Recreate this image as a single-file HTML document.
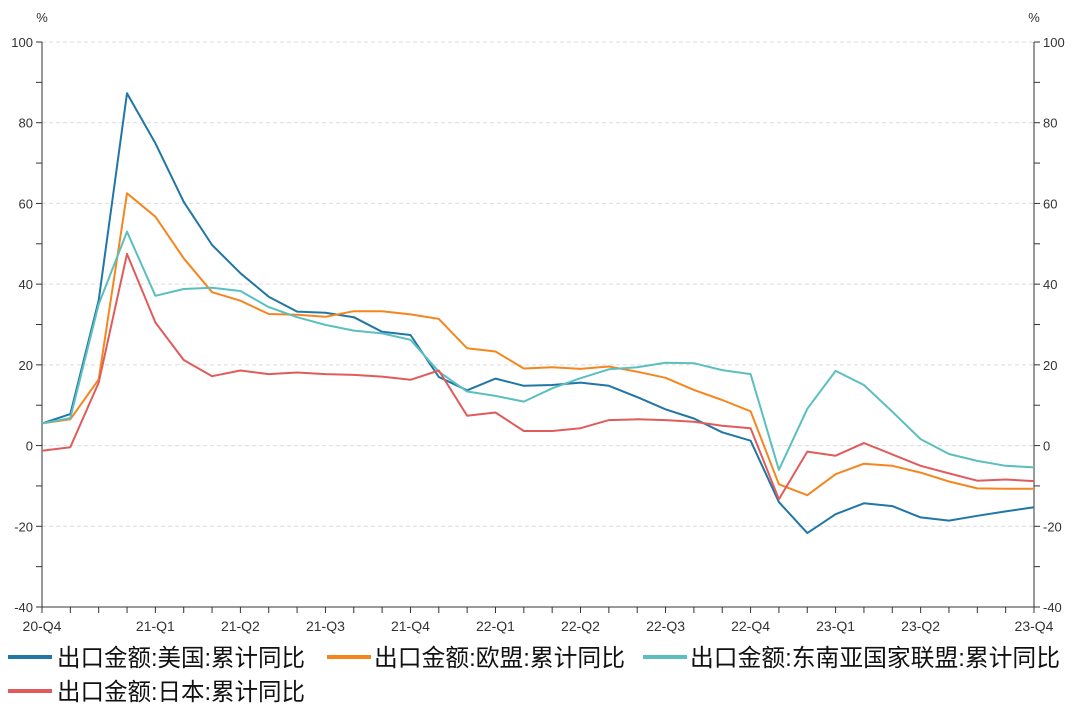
<!DOCTYPE html>
<html><head><meta charset="utf-8"><style>
body{margin:0;background:#fff;}
svg{display:block;font-family:"Liberation Sans","Noto Sans CJK SC",sans-serif;}
</style></head><body>
<svg id="chart" width="1080" height="710" viewBox="0 0 1080 710" xmlns="http://www.w3.org/2000/svg">
<g id="grid"></g>
<g id="axes"></g>
<g id="series"></g>
<g id="legend"></g>
</svg>
<script>
const xLabels = ["20-Q4","","","","21-Q1","","","21-Q2","","","21-Q3","","","21-Q4","","","22-Q1","","","22-Q2","","","22-Q3","","","22-Q4","","","23-Q1","","","23-Q2","","","","23-Q4"];
const yTicks = [-40,-20,0,20,40,60,80,100];
const usData = [5.5,7.8,36,87.3,74.9,60.4,49.7,42.7,36.9,33.2,32.9,31.8,28.2,27.4,17,13.7,16.6,14.8,15,15.6,14.8,12,9,6.7,3.3,1.2,-14,-21.7,-17,-14.3,-15,-17.8,-18.6,-17.4,-16.3,-15.3];
const euData = [5.5,6.5,16.4,62.5,56.7,46.4,38,35.9,32.6,32.4,31.9,33.3,33.3,32.5,31.4,24.1,23.3,19.1,19.4,19,19.6,18.3,16.8,13.8,11.3,8.5,-9.6,-12.3,-7.1,-4.5,-5,-6.7,-8.9,-10.6,-10.7,-10.7];
const aseanData = [5.5,6.8,35,53,37.1,38.8,39.1,38.3,34.3,31.8,29.9,28.5,27.8,26.2,18.3,13.4,12.3,10.9,14.2,16.7,18.9,19.4,20.5,20.4,18.7,17.7,-6,9.1,18.5,15,8.4,1.6,-2.1,-3.8,-5,-5.4];
const jpData = [-1.3,-0.4,15.6,47.5,30.5,21.2,17.2,18.6,17.7,18.1,17.7,17.5,17.1,16.3,18.6,7.4,8.2,3.6,3.6,4.3,6.3,6.5,6.3,5.9,4.9,4.3,-13.3,-1.5,-2.5,0.6,-2.2,-5,-6.9,-8.7,-8.4,-8.8];
const seriesNames = ["出口金额:美国:累计同比","出口金额:欧盟:累计同比","出口金额:东南亚国家联盟:累计同比","出口金额:日本:累计同比"];

const NS="http://www.w3.org/2000/svg";
const L=42,R=1034,T=42,B=607,yMin=-40,yMax=100;
const n=xLabels.length;
const xs=i=>L+(R-L)*i/(n-1);
const ys=v=>B-(v-yMin)*(B-T)/(yMax-yMin);
function mk(tag,attrs,parent){const e=document.createElementNS(NS,tag);for(const k in attrs)e.setAttribute(k,attrs[k]);parent.appendChild(e);return e;}
const grid=document.getElementById('grid'),axes=document.getElementById('axes'),ser=document.getElementById('series'),leg=document.getElementById('legend');

yTicks.forEach(v=>{
  const y=ys(v);
  if(v>yMin){const g=mk('line',{x1:L,x2:R,y1:y,y2:y,stroke:'#dcdcdc','stroke-dasharray':'4,3'},grid);
  
  }
  const tl=mk('text',{x:L-9,y:y+5,'text-anchor':'end','font-size':13,fill:'#333'},axes);tl.textContent=v;
  
  
  const tr=mk('text',{x:R+9,y:y+5,'text-anchor':'start','font-size':13,fill:'#333'},axes);tr.textContent=v;
  
  
});
for(let v=yMin;v<=yMax;v+=10){const y=ys(v);
  mk('line',{x1:L-6,x2:L,y1:y,y2:y,stroke:'#333'},axes);
  mk('line',{x1:R,x2:R+6,y1:y,y2:y,stroke:'#333'},axes);}
mk('line',{x1:L,x2:L,y1:T,y2:B,stroke:'#333'},axes);
mk('line',{x1:R,x2:R,y1:T,y2:B,stroke:'#333'},axes);
mk('line',{x1:L,x2:R,y1:B,y2:B,stroke:'#333'},axes);
const pl=mk('text',{x:42,y:22,'text-anchor':'middle','font-size':13,fill:'#333'},axes);pl.textContent='%';


const pr=mk('text',{x:1034,y:22,'text-anchor':'middle','font-size':13,fill:'#333'},axes);pr.textContent='%';


xLabels.forEach((lab,i)=>{const x=xs(i);
  mk('line',{x1:x,x2:x,y1:B,y2:B+6,stroke:'#333'},axes);
  if(lab){const t=mk('text',{x:x,y:B+24,'text-anchor':'middle','font-size':14,fill:'#333'},axes);t.textContent=lab;
  
  }
});

const colors=['#2176a5','#f5861f','#5bbfbf','#e05c5c'];
[usData,euData,aseanData,jpData].forEach((d,si)=>{
  const p=mk('polyline',{points:d.map((v,i)=>xs(i).toFixed(1)+','+ys(v).toFixed(1)).join(' '),fill:'none',stroke:colors[si],'stroke-width':2,'stroke-linejoin':'round'},ser);
  
  
});

const legPos=[[8,657,57,248],[327,657,374,251],[643,657,690,370],[8,691,57,248]];
seriesNames.forEach((nm,si)=>{const [lx,ly,tx,tw]=legPos[si];
  const g=mk('g',{},leg);
  
  
  mk('line',{x1:lx,x2:lx+44,y1:ly,y2:ly,stroke:colors[si],'stroke-width':4},g);
  const t=mk('text',{x:tx,y:ly+9,'font-size':24,fill:'#111',textLength:tw,lengthAdjust:'spacingAndGlyphs'},g);t.textContent=nm;
});
</script>
</body></html>
